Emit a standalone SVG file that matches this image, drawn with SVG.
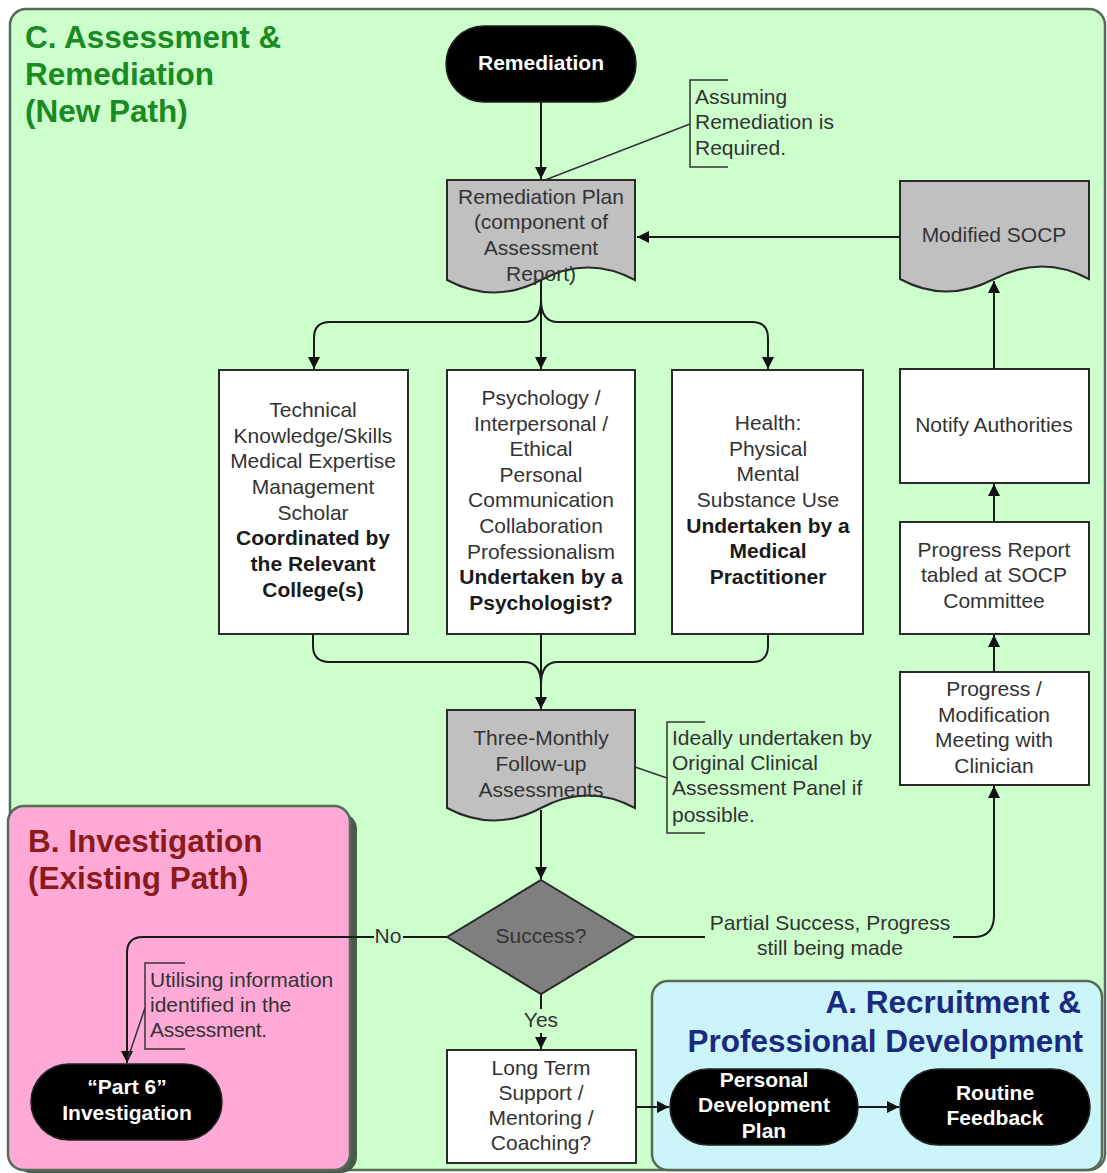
<svg xmlns="http://www.w3.org/2000/svg" width="1107" height="1173" viewBox="0 0 1107 1173">
<defs>
<style>
.cont{stroke:#556b55;stroke-width:2.5}
.box{fill:#ffffff;stroke:#2a2a2a;stroke-width:2}
.doc{fill:#c0c0c0;stroke:#2a2a2a;stroke-width:2}
.term{fill:#000000;stroke:#222;stroke-width:1.5}
.t{font-family:"Liberation Sans",Arial,sans-serif;font-size:21px;fill:#333333;text-anchor:middle}
.b{font-weight:bold;fill:#1a1a1a}
.w{font-family:"Liberation Sans",Arial,sans-serif;font-size:21px;font-weight:bold;fill:#ffffff;text-anchor:middle}
.a{font-family:"Liberation Sans",Arial,sans-serif;font-size:21px;fill:#333333}
.title{font-family:"Liberation Sans",Arial,sans-serif;font-size:31.5px;font-weight:bold}
.c{fill:none;stroke:#1a1a1a;stroke-width:2}
.br{fill:none;stroke:#333;stroke-width:1.5}
</style>
<marker id="arr" viewBox="0 0 10 10" refX="10" refY="5" markerWidth="12" markerHeight="12" orient="auto" markerUnits="userSpaceOnUse"><path d="M0,0 L10,5 L0,10 z" fill="#111"/></marker>
</defs>

<g id="containerC">
<rect class="cont" x="10" y="9" width="1095" height="1161" rx="16" fill="#ccffcc"/>
<text class="title" fill="#1a8a22" x="25" y="48">C. Assessment &amp;</text>
<text class="title" fill="#1a8a22" x="25" y="85">Remediation</text>
<text class="title" fill="#1a8a22" x="25" y="122">(New Path)</text>
</g>

<g id="containerB">
<rect x="15" y="813" width="342" height="360" rx="16" fill="#4a5a4a"/>
<rect class="cont" x="8" y="806" width="342" height="364" rx="16" fill="#ffaad6" stroke="#333"/>
<text class="title" fill="#8b1a1a" x="28" y="852">B. Investigation</text>
<text class="title" fill="#8b1a1a" x="28" y="889">(Existing Path)</text>
</g>

<g id="containerA">
<rect class="cont" x="652" y="981" width="450" height="189" rx="16" fill="#cbf5f8" stroke="#333"/>
<text class="title" fill="#1a2a80" x="1081" y="1013" text-anchor="end">A. Recruitment &amp;</text>
<text class="title" fill="#1a2a80" x="1083" y="1052" text-anchor="end">Professional Development</text>
</g>

<g id="n-remediation">
<rect class="term" x="446" y="26" width="190" height="76" rx="38"/>
<text class="w" x="541" y="70">Remediation</text>
</g>

<g id="n-assuming">
<path class="br" d="M728,80 H690 V167 H728"/>
<text class="a" x="695" y="104">Assuming</text>
<text class="a" x="695" y="129">Remediation is</text>
<text class="a" x="695" y="155">Required.</text>
</g>

<g id="n-plan">
<path class="doc" d="M447,180 H635 V280 Q588,255 541,280 T447,280 Z"/>
<text class="t" x="541" y="204">Remediation Plan</text>
<text class="t" x="541" y="229">(component of</text>
<text class="t" x="541" y="255">Assessment</text>
<text class="t" x="541" y="281">Report)</text>
</g>

<g id="n-modsocp">
<path class="doc" d="M900,181 H1089 V279 Q1042,254 994,279 T900,279 Z"/>
<text class="t" x="994" y="242">Modified SOCP</text>
</g>

<g id="n-technical">
<rect class="box" x="219" y="370" width="189" height="264"/>
<text class="t" x="313" y="417">Technical</text>
<text class="t" x="313" y="443">Knowledge/Skills</text>
<text class="t" x="313" y="468">Medical Expertise</text>
<text class="t" x="313" y="494">Management</text>
<text class="t" x="313" y="520">Scholar</text>
<text class="t b" x="313" y="545">Coordinated by</text>
<text class="t b" x="313" y="571">the Relevant</text>
<text class="t b" x="313" y="597">College(s)</text>
</g>

<g id="n-psych">
<rect class="box" x="447" y="370" width="188" height="264"/>
<text class="t" x="541" y="405">Psychology /</text>
<text class="t" x="541" y="431">Interpersonal /</text>
<text class="t" x="541" y="456">Ethical</text>
<text class="t" x="541" y="482">Personal</text>
<text class="t" x="541" y="507">Communication</text>
<text class="t" x="541" y="533">Collaboration</text>
<text class="t" x="541" y="559">Professionalism</text>
<text class="t b" x="541" y="584">Undertaken by a</text>
<text class="t b" x="541" y="610">Psychologist?</text>
</g>

<g id="n-health">
<rect class="box" x="672" y="370" width="191" height="264"/>
<text class="t" x="768" y="430">Health:</text>
<text class="t" x="768" y="456">Physical</text>
<text class="t" x="768" y="481">Mental</text>
<text class="t" x="768" y="507">Substance Use</text>
<text class="t b" x="768" y="533">Undertaken by a</text>
<text class="t b" x="768" y="558">Medical</text>
<text class="t b" x="768" y="584">Practitioner</text>
</g>

<g id="n-notify">
<rect class="box" x="900" y="369" width="189" height="114"/>
<text class="t" x="994" y="432">Notify Authorities</text>
</g>

<g id="n-progressreport">
<rect class="box" x="900" y="522" width="189" height="112"/>
<text class="t" x="994" y="557">Progress Report</text>
<text class="t" x="994" y="582">tabled at SOCP</text>
<text class="t" x="994" y="608">Committee</text>
</g>

<g id="n-progressmeeting">
<rect class="box" x="900" y="672" width="189" height="113"/>
<text class="t" x="994" y="696">Progress /</text>
<text class="t" x="994" y="722">Modification</text>
<text class="t" x="994" y="747">Meeting with</text>
<text class="t" x="994" y="773">Clinician</text>
</g>

<g id="n-threemonthly">
<path class="doc" d="M447,710 H635 V808 Q588,783 541,808 T447,808 Z"/>
<text class="t" x="541" y="745">Three-Monthly</text>
<text class="t" x="541" y="771">Follow-up</text>
<text class="t" x="541" y="797">Assessments</text>
</g>

<g id="n-ideally">
<path class="br" d="M705,722 H667 V833 H705"/>
<text class="a" x="672" y="745">Ideally undertaken by</text>
<text class="a" x="672" y="770">Original Clinical</text>
<text class="a" x="672" y="795">Assessment Panel if</text>
<text class="a" x="672" y="822">possible.</text>
</g>

<g id="n-success">
<path d="M541,880 L635,937 L541,994 L447,937 Z" fill="#7f7f7f" stroke="#2a2a2a" stroke-width="2"/>
<text class="t" x="541" y="943" fill="#222">Success?</text>
</g>

<g id="n-longterm">
<rect class="box" x="447" y="1050" width="189" height="113"/>
<text class="t" x="541" y="1075">Long Term</text>
<text class="t" x="541" y="1100">Support /</text>
<text class="t" x="541" y="1125">Mentoring /</text>
<text class="t" x="541" y="1150">Coaching?</text>
</g>

<g id="n-pdp">
<rect class="term" x="670" y="1069" width="188" height="76" rx="38"/>
<text class="w" x="764" y="1087">Personal</text>
<text class="w" x="764" y="1112">Development</text>
<text class="w" x="764" y="1138">Plan</text>
</g>

<g id="n-routine">
<rect class="term" x="900" y="1069" width="190" height="76" rx="38"/>
<text class="w" x="995" y="1100">Routine</text>
<text class="w" x="995" y="1125">Feedback</text>
</g>

<g id="n-part6">
<rect class="term" x="31" y="1064" width="191" height="76" rx="38"/>
<text class="w" x="127" y="1094">“Part 6”</text>
<text class="w" x="127" y="1120">Investigation</text>
</g>

<g id="n-utilising">
<path class="br" d="M185,963 H145 V1049 H185"/>
<text class="a" x="150" y="987">Utilising information</text>
<text class="a" x="150" y="1012">identified in the</text>
<text class="a" x="150" y="1037" style="letter-spacing:-0.3px">Assessment.</text>
</g>

<g id="connectors">
<path class="c" d="M541,102 V179" marker-end="url(#arr)"/>
<path class="br" d="M690,124 L545,180"/>
<path class="c" d="M900,237 H637" marker-end="url(#arr)"/>
<path class="c" d="M541,280 V369" marker-end="url(#arr)"/>
<path class="c" d="M541,300 Q541,322 524,322 H330 Q314,322 314,338 V369" marker-end="url(#arr)"/>
<path class="c" d="M541,300 Q541,322 558,322 H752 Q768,322 768,338 V369" marker-end="url(#arr)"/>
<path class="c" d="M313,634 V646 Q313,662 330,662 H524 Q541,662 541,684"/>
<path class="c" d="M768,634 V646 Q768,662 752,662 H558 Q541,662 541,684"/>
<path class="c" d="M541,634 V709" marker-end="url(#arr)"/>
<path class="br" d="M635,767 L667,778"/>
<path class="c" d="M541,810 V879" marker-end="url(#arr)"/>
<path class="c" d="M541,994 V1009"/>
<path class="c" d="M541,1033 V1049" marker-end="url(#arr)"/>
<text class="t" x="541" y="1027" fill="#333">Yes</text>
<path class="c" d="M447,937 H403"/>
<path class="c" d="M374,937 H143 Q127,937 127,953 V1063" marker-end="url(#arr)"/>
<text class="t" x="388" y="943" fill="#333">No</text>
<path class="br" d="M145,1008 L128,1058"/>
<path class="c" d="M635,937 H705"/>
<path class="c" d="M953,937 H974 Q994,937 994,915 V786" marker-end="url(#arr)"/>
<text class="t" x="830" y="930">Partial Success, Progress</text>
<text class="t" x="830" y="955">still being made</text>
<path class="c" d="M994,672 V635" marker-end="url(#arr)"/>
<path class="c" d="M994,522 V484" marker-end="url(#arr)"/>
<path class="c" d="M994,369 V281" marker-end="url(#arr)"/>
<path class="c" d="M636,1107 H669" marker-end="url(#arr)"/>
<path class="c" d="M858,1107 H899" marker-end="url(#arr)"/>
</g>
</svg>
